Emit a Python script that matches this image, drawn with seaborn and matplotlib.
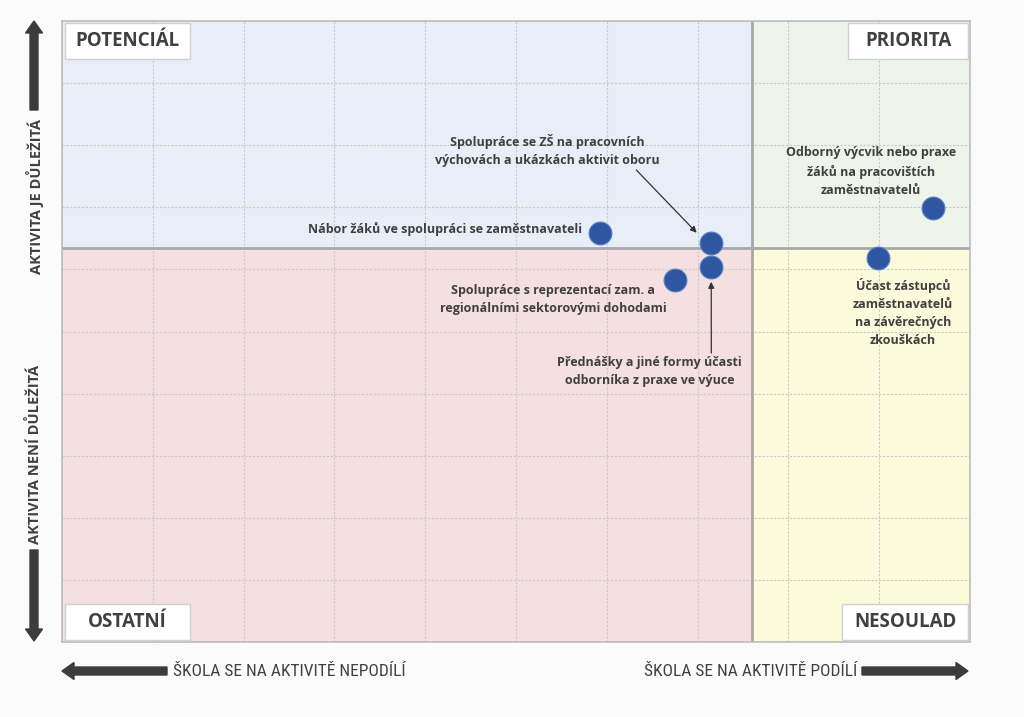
import numpy as np
import pandas as pd
import seaborn as sns
import matplotlib.pyplot as plt
from matplotlib import font_manager
from matplotlib.patches import Rectangle, FancyArrow

# activities: x = school participates, y = importance (grid units 0-10)
activities = [
    "Nábor žáků ve spolupráci se zaměstnavateli",
    "Spolupráce se ZŠ na pracovních výchovách a ukázkách aktivit oboru",
    "Přednášky a jiné formy účasti odborníka z praxe ve výuce",
    "Spolupráce s reprezentací zam. a regionálními sektorovými dohodami",
    "Odborný výcvik nebo praxe žáků na pracovištích zaměstnavatelů",
    "Účast zástupců zaměstnavatelů na závěrečných zkouškách",
]
participation = [5.93, 7.15, 7.15, 6.75, 9.59, 8.99]
importance = [6.59, 6.43, 6.04, 5.83, 6.99, 6.18]

x_split = 7.6
y_split = 6.34
quadrants = ["POTENCIÁL", "PRIORITA", "OSTATNÍ", "NESOULAD"]

df = pd.DataFrame({"aktivita": activities, "podil": participation, "dulezitost": importance})

sns.set_theme(style="white")
names = {f.name for f in font_manager.fontManager.ttflist}
narrow = "Roboto"
for cand in ["Liberation Sans Narrow", "Roboto Condensed", "Open Sans Condensed", "DejaVu Sans Condensed"]:
    if cand in names:
        narrow = cand
        break
plt.rcParams["font.family"] = ["Open Sans", "DejaVu Sans"]

dark = "#404040"
fig = plt.figure(figsize=(10.24, 7.17), dpi=100, facecolor="#fbfbfb")
ax = fig.add_axes([62 / 1024, 75 / 717, 908 / 1024, 621 / 717])

# quadrant backgrounds
ax.add_patch(Rectangle((0, y_split), x_split, 10 - y_split, fc="#e7eef7", ec="none", zorder=0))
ax.add_patch(Rectangle((x_split, y_split), 10 - x_split, 10 - y_split, fc="#eff4ea", ec="none", zorder=0))
ax.add_patch(Rectangle((0, 0), x_split, y_split, fc="#f4dfe1", ec="none", zorder=0))
ax.add_patch(Rectangle((x_split, 0), 10 - x_split, y_split, fc="#fbfadb", ec="none", zorder=0))

ax.set_xlim(0, 10)
ax.set_ylim(0, 10)
ax.set_xticks(np.arange(0, 11))
ax.set_yticks(np.arange(0, 11))
ax.grid(True, color="#c9c9c9", linestyle=(0, (2, 1.5)), linewidth=0.8, zorder=1)
ax.set_axisbelow(True)
ax.tick_params(length=0, labelbottom=False, labelleft=False)
for s in ax.spines.values():
    s.set_color("#bdbdbd")
    s.set_linewidth(1.2)

ax.axvline(x_split, color="#a8a8a8", lw=2, zorder=2)
ax.axhline(y_split, color="#a8a8a8", lw=2, zorder=2)

sns.scatterplot(data=df, x="podil", y="dulezitost", s=270, color="#2f56a0",
                edgecolor="#5b7fc4", linewidth=0.8, zorder=5, legend=False, ax=ax)
ax.set_xlabel("")
ax.set_ylabel("")

# quadrant name boxes (axes fraction)
boxes = [(0.003, 0.939, 0.138, 0.058), (0.866, 0.939, 0.132, 0.058),
         (0.003, 0.003, 0.138, 0.058), (0.859, 0.003, 0.139, 0.058)]
for name, (bx, by, bw, bh) in zip(quadrants, boxes):
    ax.add_patch(Rectangle((bx, by), bw, bh, transform=ax.transAxes, fc="white",
                           ec="#d0d0d0", lw=1, zorder=6))
    ax.text(bx + bw / 2, by + bh / 2, name, transform=ax.transAxes, ha="center", va="center",
            fontsize=13.5, fontweight="bold", color=dark, zorder=7)

lab = dict(fontsize=9, fontweight="bold", color=dark, linespacing=1.5, zorder=6)
ax.text(5.73, 6.65, "Nábor žáků ve spolupráci se zaměstnavateli", ha="right", va="center", **lab)
ax.annotate("Spolupráce se ZŠ na pracovních\nvýchovách a ukázkách aktivit oboru",
            xy=(6.99, 6.59), xytext=(5.35, 7.92), ha="center", va="center",
            arrowprops=dict(arrowstyle="-|>", color="#333333", lw=0.9, shrinkA=0, shrinkB=0,
                            relpos=(0.88, 0.0)), **lab)
ax.text(5.41, 5.51, "Spolupráce s reprezentací zam. a\nregionálními sektorovými dohodami",
        ha="center", va="center", **lab)
ax.annotate("Přednášky a jiné formy účasti\nodborníka z praxe ve výuce",
            xy=(7.15, 5.80), xytext=(6.47, 4.35), ha="center", va="center",
            arrowprops=dict(arrowstyle="-|>", color="#333333", lw=0.9, shrinkA=0, shrinkB=0,
                            relpos=(0.835, 1.0)), **lab)
ax.text(8.91, 7.58, "Odborný výcvik nebo praxe\nžáků na pracovištích\nzaměstnavatelů",
        ha="center", va="center", **lab)
ax.text(9.26, 5.30, "Účast zástupců\nzaměstnavatelů\nna závěrečných\nzkouškách",
        ha="center", va="center", **lab)

# side arrows and captions (figure inches)
tr = fig.dpi_scale_trans
arrow = dict(width=0.08, head_width=0.17, head_length=0.12, length_includes_head=True,
             color="#3c3c3c", transform=tr)
fig.add_artist(FancyArrow(0.34, 6.07, 0, 0.89, **arrow))
fig.add_artist(FancyArrow(0.34, 1.67, 0, -0.91, **arrow))
fig.add_artist(FancyArrow(1.67, 0.46, -1.05, 0, **arrow))
fig.add_artist(FancyArrow(8.62, 0.46, 1.06, 0, **arrow))

side = dict(fontsize=10.5, fontweight="bold", color=dark, rotation=90,
            ha="center", va="center", transform=tr)
fig.text(0.35, (717 - 197) / 100, "AKTIVITA JE DŮLEŽITÁ", **side)
fig.text(0.35, (717 - 454) / 100, "AKTIVITA NENÍ DŮLEŽITÁ", **side)
bottom = dict(fontsize=12.5, color=dark, va="center", transform=tr, family=narrow)
fig.text(1.73, 0.46, "ŠKOLA SE NA AKTIVITĚ NEPODÍLÍ", ha="left", **bottom)
fig.text(8.57, 0.46, "ŠKOLA SE NA AKTIVITĚ PODÍLÍ", ha="right", **bottom)

fig.savefig("out.png", dpi=100, facecolor=fig.get_facecolor())
